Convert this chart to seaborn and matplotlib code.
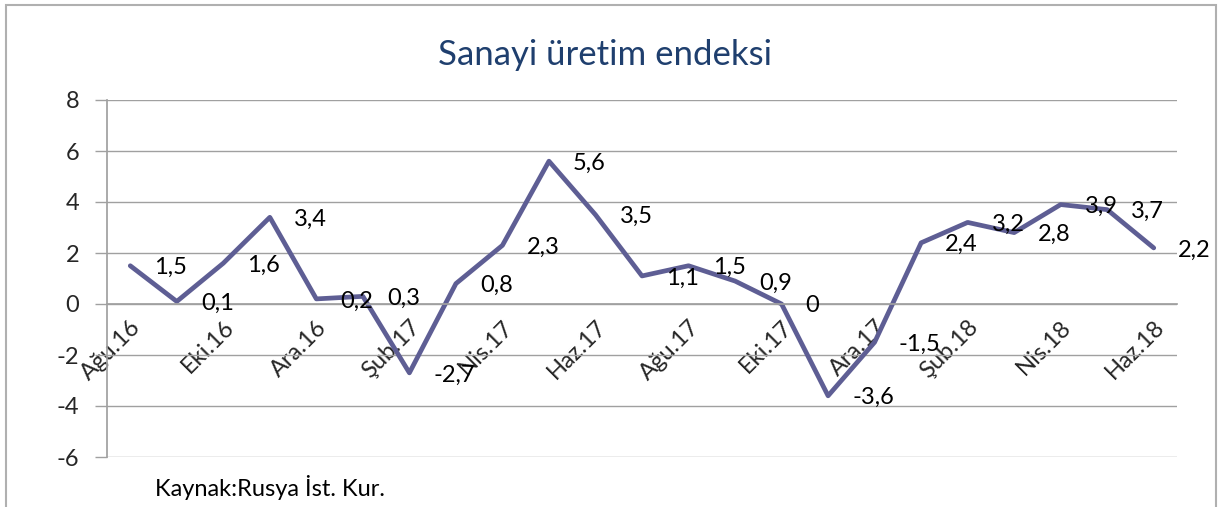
import matplotlib
matplotlib.use("Agg")
import matplotlib.pyplot as plt
import seaborn as sns
import pandas as pd
from matplotlib.patches import Rectangle

# monthly data, Ağu.16 - Haz.18
months = ['Ağu.16', 'Eyl.16', 'Eki.16', 'Kas.16', 'Ara.16', 'Oca.17', 'Şub.17', 'Mar.17',
          'Nis.17', 'May.17', 'Haz.17', 'Tem.17', 'Ağu.17', 'Eyl.17', 'Eki.17', 'Kas.17',
          'Ara.17', 'Oca.18', 'Şub.18', 'Mar.18', 'Nis.18', 'May.18', 'Haz.18']
values = [1.5, 0.1, 1.6, 3.4, 0.2, 0.3, -2.7, 0.8, 2.3, 5.6, 3.5, 1.1,
          1.5, 0.9, 0.0, -3.6, -1.5, 2.4, 3.2, 2.8, 3.9, 3.7, 2.2]
yticks = [-6, -4, -2, 0, 2, 4, 6, 8]

title = 'Sanayi üretim endeksi'
source = 'Kaynak:Rusya İst. Kur.'

line_color = '#5e5e94'
grid_color = '#a0a0a0'

df = pd.DataFrame({'idx': range(len(months)), 'month': months, 'value': values})

sns.set_theme(style='white')
plt.rcParams['font.family'] = ['Lato', 'DejaVu Sans']

fig = plt.figure(figsize=(12.2, 5.07), dpi=100)
ax = fig.add_axes([107 / 1220, 1 - 457 / 507, 1070 / 1220, 357 / 507])

sns.lineplot(data=df, x='idx', y='value', ax=ax, color=line_color, linewidth=3.4)

ax.set_xlim(-0.5, len(months) - 0.5)
ax.set_ylim(-6, 8)
ax.set_yticks(yticks)
ax.set_yticklabels([str(v) for v in yticks], fontsize=17)
ax.yaxis.grid(True, color=grid_color, linewidth=1)
ax.set_axisbelow(True)
ax.set_xlabel('')
ax.set_ylabel('')

for s in ['top', 'right']:
    ax.spines[s].set_visible(False)
ax.spines['left'].set_color(grid_color)
ax.spines['bottom'].set_color(grid_color)
ax.spines['bottom'].set_position(('data', 0))

# category labels every second month, tick marks between categories
ax.set_xticks(df['idx'][::2])
ax.set_xticklabels(months[::2], rotation=45, ha='right', rotation_mode='anchor', fontsize=17)
ax.set_xticks([i - 0.5 for i in range(0, len(months), 2)], minor=True)
ax.tick_params(axis='x', which='major', length=0, pad=9)
ax.tick_params(axis='x', which='minor', length=8, color=grid_color, width=1, direction='out')
ax.tick_params(axis='y', length=9, color=grid_color, width=1, direction='out', left=True, pad=11)

for i, v in zip(df['idx'], values):
    lab = ('%g' % v).replace('.', ',')
    ax.annotate(lab, (i, v), xytext=(24, -2), textcoords='offset pixels',
                ha='left', va='center', fontsize=17, color='black')

fig.text(605 / 1220, 1 - 55 / 507, title, ha='center', va='center', fontsize=25, color='#1f3f6e')
fig.text(155 / 1220, 1 - 488 / 507, source, ha='left', va='center', fontsize=17, color='black')

# outer chart frame
fig.patches.append(Rectangle((6 / 1220, -0.05), 1210 / 1220, 1.05 - 5 / 507, transform=fig.transFigure,
                             fill=False, edgecolor='#b0b0b0', linewidth=1.5))

fig.savefig('out.png', dpi=100)
